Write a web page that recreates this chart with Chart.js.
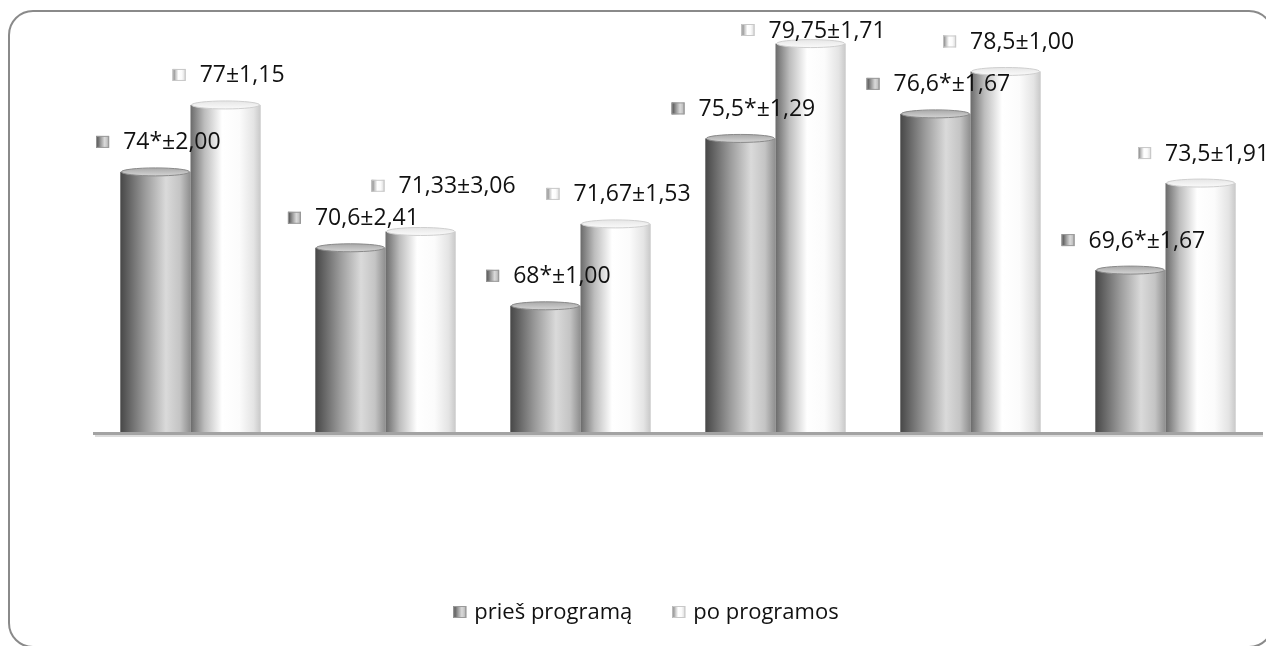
<!DOCTYPE html>
<html>
<head>
<meta charset="utf-8">
<script src="https://cdn.jsdelivr.net/npm/chart.js@4"></script>
<style>
  body { margin: 0; background: #fff; }
  #wrap { position: relative; width: 1266px; height: 646px; overflow: hidden; }
  #frame {
    position: absolute; left: 8px; top: 10px; width: 1262px; height: 634px;
    border: 2px solid #8a8a8a; border-radius: 25px; pointer-events: none;
  }
</style>
</head>
<body>
<div id="wrap">
  <canvas id="grafikas" width="1266" height="646"></canvas>
  <div id="frame"></div>
</div>
<script>
// duomenys
const categories = ['1', '2', '3', '4', '5', '6'];
const seriesNames = ['prieš programą', 'po programos'];
const before = [74, 70.6, 68, 75.5, 76.6, 69.6];
const after = [77, 71.33, 71.67, 79.75, 78.5, 73.5];
const beforeSd = [2.00, 2.41, 1.00, 1.29, 1.67, 1.67];
const afterSd = [1.15, 3.06, 1.53, 1.71, 1.00, 1.91];
const beforeMark = ['*', '', '*', '*', '*', '*'];
const afterMark = ['', '', '', '', '', ''];

const fmt = (v) => String(v).replace('.', ',');
const makeLabels = (vals, sds, marks) =>
    vals.map((v, i) => fmt(v) + marks[i] + '±' + sds[i].toFixed(2).replace('.', ','));
const valueLabels = [makeLabels(before, beforeSd, beforeMark), makeLabels(after, afterSd, afterMark)];

// cilindru spalvos
const stops = [
    [[0, '#474747'], [0.35, '#9a9a9a'], [0.65, '#dadada'], [0.85, '#c4c4c4'], [1, '#8e8e8e']],
    [[0, '#6a6a6a'], [0.2, '#bdbdbd'], [0.45, '#ffffff'], [0.7, '#fbfbfb'], [0.9, '#e4e4e4'], [1, '#c8c8c8']]
];
const topColors = [['#a8a8a8', '#d4d4d4'], ['#e6e6e6', '#fafafa']];

function hGrad(c, x0, x1, list) {
    const g = c.createLinearGradient(x0, 0, x1, 0);
    list.forEach(s => g.addColorStop(s[0], s[1]));
    return g;
}

function marker(c, x, cy, di) {
    c.fillStyle = hGrad(c, x, x + 13, stops[di]);
    c.fillRect(x, cy - 6, 13, 12);
    c.strokeStyle = di === 0 ? '#9a9a9a' : '#c8c8c8';
    c.lineWidth = 1;
    c.strokeRect(x + 0.5, cy - 5.5, 12, 11);
}

const cylinders = {
    id: 'cylinders',
    afterDatasetsDraw(chart) {
        const c = chart.ctx;
        const area = chart.chartArea;
        c.save();
        chart.data.datasets.forEach((ds, di) => {
            chart.getDatasetMeta(di).data.forEach(el => {
                const x0 = el.x - el.width / 2, x1 = el.x + el.width / 2;
                const base = Math.min(el.base, area.bottom);
                c.fillStyle = hGrad(c, x0, x1, stops[di]);
                c.fillRect(x0, el.y, el.width, base - el.y);
                // virsus
                c.beginPath();
                c.ellipse(el.x, el.y, el.width / 2 - 1, 4, 0, 0, Math.PI * 2);
                const g = c.createLinearGradient(0, el.y - 4, 0, el.y + 4);
                g.addColorStop(0, topColors[di][0]);
                g.addColorStop(1, topColors[di][1]);
                c.fillStyle = g;
                c.fill();
                c.strokeStyle = di === 0 ? '#8a8a8a' : '#cfcfcf';
                c.lineWidth = 1;
                c.stroke();
            });
        });
        // asies linija
        c.fillStyle = '#a3a3a3';
        c.fillRect(area.left, area.bottom - 1, area.right - area.left, 3);
        c.fillStyle = '#dcdcdc';
        c.fillRect(area.left + 2, area.bottom + 2, area.right - area.left - 2, 2);
        c.restore();
    }
};

const valueTags = {
    id: 'valueTags',
    afterDraw(chart) {
        const c = chart.ctx;
        c.save();
        c.font = '23px "Open Sans"';
        c.textBaseline = 'middle';
        const metas = [chart.getDatasetMeta(0), chart.getDatasetMeta(1)];
        categories.forEach((cat, i) => {
            let prev = null;
            [0, 1].forEach(di => {
                const el = metas[di].data[i];
                const txt = valueLabels[di][i];
                const tw = c.measureText(txt).width;
                const total = 14 + 13 + tw;
                let sx = el.x + 3 - total / 2;
                let cy = Math.max(el.y - 30, chart.chartArea.top - 8);
                // jei uzlipa ant ankstesnio uzraso - pakelti
                if (prev && Math.abs(prev.cy - cy) < 26 && sx < prev.x1) {
                    cy = prev.cy - 32;
                    sx += 20;
                }
                marker(c, sx, cy, di);
                c.fillStyle = '#111';
                c.fillText(txt, sx + 27, cy + 1);
                prev = { cy: cy, x1: sx + total };
            });
        });
        c.restore();
    }
};

// legenda apacioje
const bottomLegend = {
    id: 'bottomLegend',
    afterDraw(chart) {
        const c = chart.ctx;
        c.save();
        c.font = '22px "Open Sans"';
        c.textBaseline = 'middle';
        const widths = seriesNames.map(s => c.measureText(s).width);
        const full = widths.reduce((a, w) => a + 13 + 8 + w, 0) + 40;
        let x = 646 - full / 2;
        const cy = 612;
        seriesNames.forEach((s, di) => {
            marker(c, x, cy, di);
            c.fillStyle = '#111';
            c.fillText(s, x + 21, cy + 1);
            x += 21 + widths[di] + 40;
        });
        c.restore();
    }
};

new Chart(document.getElementById('grafikas'), {
    type: 'bar',
    data: {
        labels: categories,
        datasets: [
            { label: seriesNames[0], data: before, backgroundColor: 'rgba(0,0,0,0)' },
            { label: seriesNames[1], data: after, backgroundColor: 'rgba(0,0,0,0)' }
        ]
    },
    options: {
        responsive: false,
        animation: false,
        events: [],
        categoryPercentage: 0.72,
        barPercentage: 1.0,
        layout: { padding: { left: 93, right: 3, top: 38, bottom: 0 } },
        scales: {
            x: {
                grid: { display: false },
                ticks: { display: false },
                border: { display: false },
                afterFit(scale) { scale.height = 213; }
            },
            y: { display: false, min: 62.3, max: 80 }
        },
        plugins: {
            tooltip: { enabled: false },
            legend: { display: false }
        }
    },
    plugins: [cylinders, valueTags, bottomLegend]
});
</script>
</body>
</html>
